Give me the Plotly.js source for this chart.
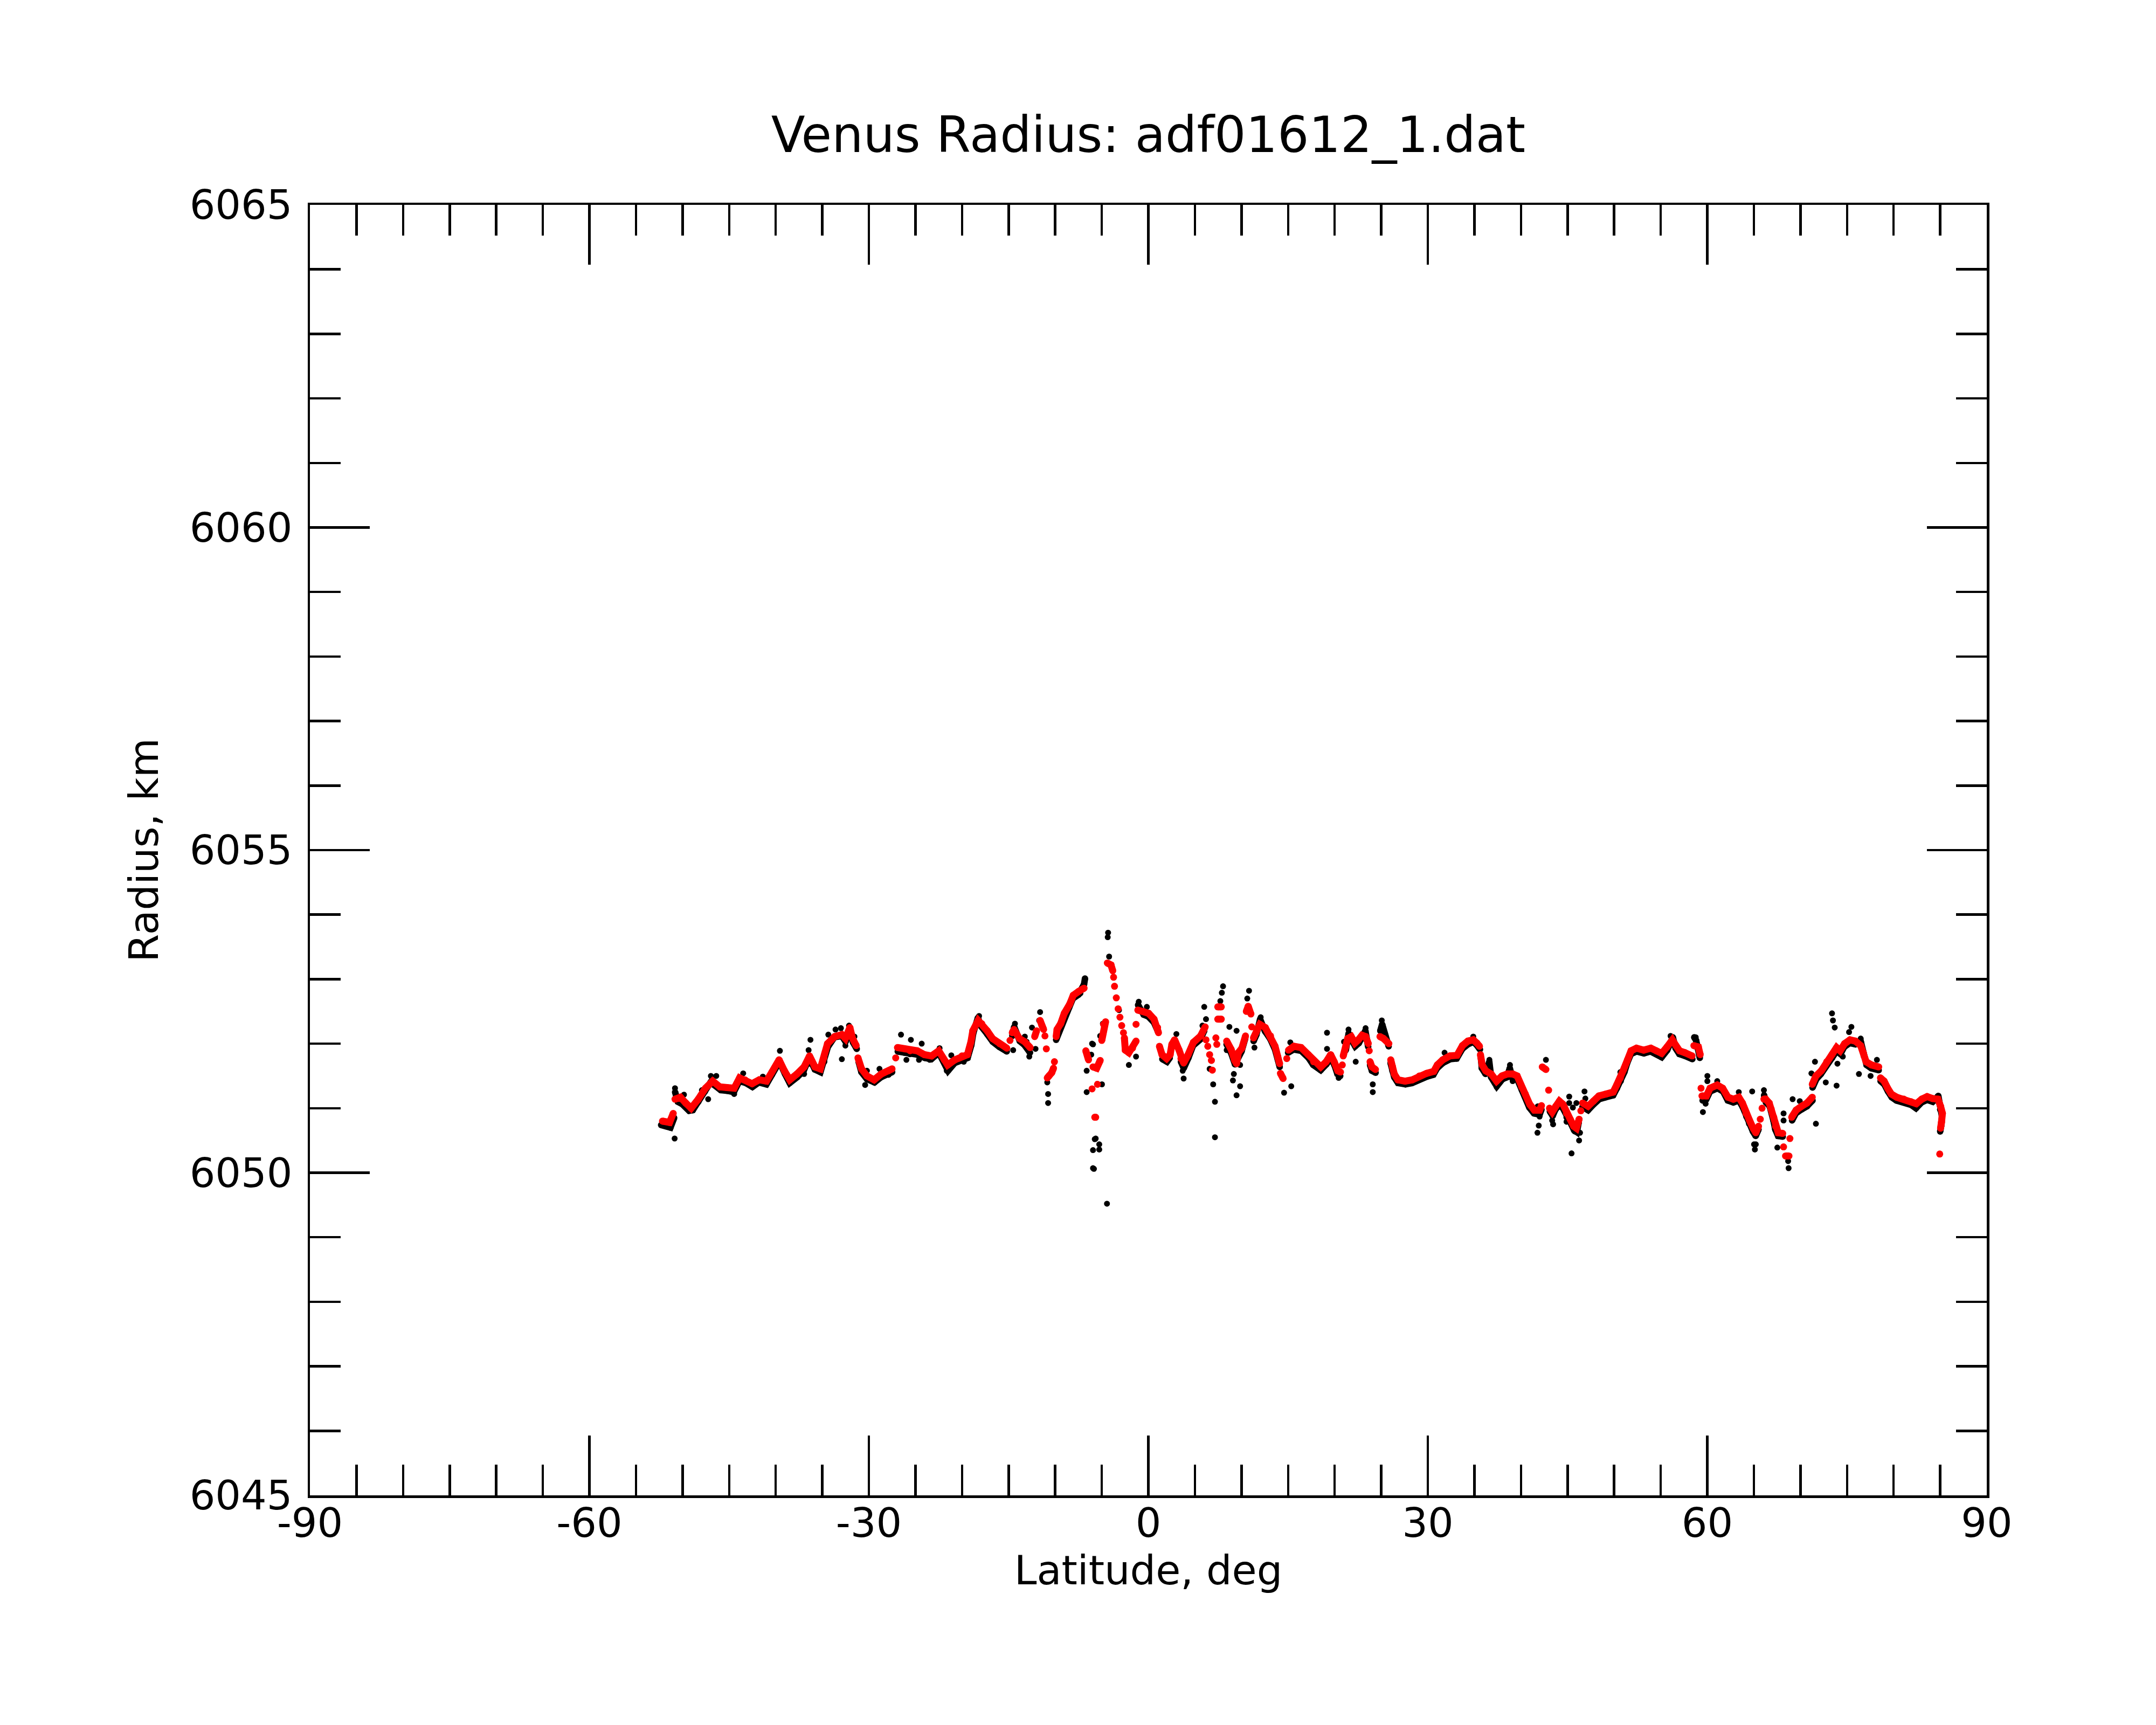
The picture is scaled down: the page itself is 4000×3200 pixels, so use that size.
<!DOCTYPE html>
<html>
<head>
<meta charset="utf-8">
<script src="https://cdn.plot.ly/plotly-3.0.1.min.js"></script>
<style>
html, body { margin: 0; padding: 0; background: #ffffff; }
#plot { width: 4000px; height: 3200px; }
</style>
</head>
<body>
<div id="plot"></div>
<script>
// axis ticks
var latTicks = [-90, -60, -30, 0, 30, 60, 90];
var latTickText = ['-90', '-60', '-30', '0', '30', '60', '90'];
var radTicks = [6045, 6050, 6055, 6060, 6065];
var radTickText = ['6045', '6050', '6055', '6060', '6065'];

// smoothed radius (red), [latitude, radius]; null = break in the track
var redPoints = [
	[-52.16,6050.80],[-51.39,6050.78],[-51.00,6050.92], null,
	[-50.81,6051.14],[-50.23,6051.17],[-49.66,6051.08],[-49.08,6051.00],[-48.31,6051.14],[-47.54,6051.31],[-46.77,6051.42],[-46.00,6051.33],[-45.23,6051.32],[-44.46,6051.31],[-43.88,6051.47],[-43.30,6051.44],[-42.53,6051.38],[-41.76,6051.44],[-40.99,6051.42],[-40.41,6051.56],[-39.64,6051.75],[-39.07,6051.58],[-38.49,6051.44],[-37.72,6051.53],[-36.95,6051.64],[-36.37,6051.81],[-35.79,6051.64],[-35.21,6051.61],[-34.83,6051.78],[-34.44,6052.00],[-33.67,6052.11],[-32.90,6052.14],[-32.52,6052.08],[-32.04,6052.25],[-31.75,6052.08],[-31.36,6051.97], null,
	[-31.17,6051.78],[-30.79,6051.61],[-30.21,6051.50],[-29.44,6051.44],[-28.67,6051.53],[-27.90,6051.58],[-27.51,6051.61], null,
	[-27.12,6051.78], null,
	[-26.93,6051.94],[-26.16,6051.92],[-25.58,6051.89],[-24.81,6051.89],[-24.04,6051.83],[-23.27,6051.81],[-22.50,6051.89],[-21.92,6051.75],[-21.54,6051.67],[-20.77,6051.75],[-20.00,6051.81],[-19.42,6051.83],[-19.04,6052.03],[-18.84,6052.20],[-18.27,6052.36],[-17.88,6052.31],[-17.30,6052.20],[-16.73,6052.08],[-15.96,6052.00],[-15.19,6051.93], null,
	[-14.85,6052.05], null,
	[-14.61,6052.17],[-14.42,6052.22],[-13.84,6052.08],[-13.27,6052.03],[-12.69,6051.94], null,
	[-12.20,6052.11],[-12.00,6052.20], null,
	[-11.62,6052.36],[-11.43,6052.28],[-11.24,6052.22], null,
	[-11.10,6052.12], null, [-10.95,6051.92], null,
	[-10.85,6051.47],[-10.66,6051.50],[-10.37,6051.55],[-10.18,6051.62], null,
	[-10.08,6051.72], null,
	[-9.89,6052.11],[-9.80,6052.22],[-9.41,6052.31],[-9.02,6052.47],[-8.45,6052.61],[-8.06,6052.75],[-7.48,6052.81],[-6.90,6052.86], null,
	[-6.71,6051.89],[-6.42,6051.75], null,
	[-6.04,6051.30], null, [-5.46,6051.37], null,
	[-5.94,6051.64],[-5.55,6051.62],[-5.17,6051.74], null,
	[-5.75,6050.86],[-5.65,6050.86], null,
	[-5.00,6052.05],[-4.80,6052.30],[-4.59,6052.34], null,
	[-4.40,6053.25],[-4.01,6053.22],[-3.82,6053.13], null,
	[-3.73,6053.03], null, [-3.63,6052.89], null, [-3.44,6052.71], null, [-3.24,6052.54], null, [-3.05,6052.41], null, [-2.86,6052.28], null, [-2.67,6052.17], null,
	[-2.57,6052.09],[-2.47,6051.90],[-2.09,6051.86],[-1.70,6051.93],[-1.32,6052.04], null,
	[-1.32,6052.30], null,
	[-1.13,6052.52],[-0.55,6052.50],[0.03,6052.47],[0.61,6052.38],[0.99,6052.25],[1.09,6052.17], null,
	[1.19,6051.96],[1.47,6051.83],[1.96,6051.77],[2.34,6051.83],[2.53,6051.99],[2.82,6052.06],[3.30,6051.90],[3.50,6051.77],[3.79,6051.70],[4.27,6051.83],[4.84,6052.02],[5.61,6052.12],[6.10,6052.26], null,
	[6.19,6052.06], null, [6.38,6051.96], null, [6.58,6051.83], null, [6.77,6051.74], null, [6.87,6051.59], null,
	[7.25,6052.09], null, [7.35,6051.99], null,
	[7.45,6052.38],[7.83,6052.38], null,
	[7.45,6052.57],[7.83,6052.57], null,
	[8.41,6052.04],[8.89,6051.91],[9.27,6051.74],[9.47,6051.69],[9.66,6051.86],[10.04,6051.93],[10.43,6052.12], null,
	[10.52,6052.50],[10.72,6052.58],[11.01,6052.46], null,
	[11.10,6052.26], null,
	[11.29,6052.09],[11.58,6052.18],[11.97,6052.30],[12.55,6052.25],[13.12,6052.12],[13.60,6051.96],[13.89,6051.80],[14.09,6051.69], null,
	[14.18,6051.54],[14.47,6051.46], null,
	[14.86,6051.77], null,
	[15.05,6051.90],[15.63,6051.96],[16.40,6051.94],[17.17,6051.83],[17.74,6051.72],[18.51,6051.64],[19.09,6051.72],[19.57,6051.83],[19.95,6051.72],[20.34,6051.58],[20.63,6051.56], null,
	[20.82,6051.67], null,
	[20.92,6051.81],[21.20,6051.95],[21.40,6052.08],[21.78,6052.11],[22.17,6052.01],[22.55,6052.06],[22.94,6052.13],[23.32,6052.11],[23.61,6052.00], null,
	[23.71,6051.89], null,
	[23.80,6051.72],[24.00,6051.64],[24.38,6051.60], null,
	[24.86,6052.11],[25.25,6052.08],[25.82,6052.00], null,
	[26.02,6051.75],[26.21,6051.64],[26.40,6051.53],[26.79,6051.44],[27.56,6051.42],[28.33,6051.44],[29.10,6051.50],[29.87,6051.54],[30.64,6051.57],[31.02,6051.67],[31.60,6051.75],[32.37,6051.81],[33.14,6051.82],[33.72,6051.97],[34.30,6052.04],[34.88,6052.06],[35.26,6052.01],[35.55,6051.96], null,
	[35.65,6051.83],[35.84,6051.67],[36.22,6051.58],[36.80,6051.53],[37.38,6051.42],[37.96,6051.50],[38.53,6051.53],[39.11,6051.53],[39.59,6051.50],[40.07,6051.33],[40.46,6051.22],[40.94,6051.06],[41.43,6050.97],[42.00,6050.97],[42.20,6051.04], null,
	[42.29,6051.64],[42.68,6051.60], null,
	[42.97,6051.28], null,
	[43.06,6051.00],[43.35,6050.94],[43.74,6051.03],[44.12,6051.11],[44.51,6051.06],[44.89,6050.92],[45.28,6050.83],[45.66,6050.72],[45.95,6050.69],[46.24,6050.83], null,
	[46.43,6050.96], null,
	[46.62,6051.08],[47.20,6051.03],[47.78,6051.11],[48.36,6051.19],[49.13,6051.22],[49.90,6051.25],[50.28,6051.36],[50.67,6051.47],[51.05,6051.61],[51.44,6051.75],[51.82,6051.89],[52.40,6051.93],[53.17,6051.90],[53.94,6051.93],[54.52,6051.89],[55.10,6051.85],[55.68,6051.95],[56.25,6052.06],[56.64,6051.97],[57.02,6051.89],[57.60,6051.86],[58.37,6051.81], null,
	[58.56,6051.97],[59.04,6051.95],[59.24,6051.83], null,
	[59.33,6051.31], null,
	[59.43,6051.19],[59.91,6051.19],[60.30,6051.31],[61.07,6051.36],[61.65,6051.31],[62.22,6051.17],[62.80,6051.14],[63.38,6051.17],[63.77,6051.08],[64.15,6050.92],[64.54,6050.81],[64.92,6050.69],[65.21,6050.62],[65.50,6050.72], null,
	[65.69,6050.83], null, [65.88,6051.00], null,
	[66.08,6051.14],[66.27,6051.14],[66.65,6051.08],[66.85,6050.99],[67.14,6050.86],[67.33,6050.72],[67.62,6050.62],[68.10,6050.61], null,
	[68.19,6050.40], null,
	[68.40,6050.26],[68.77,6050.26], null,
	[68.87,6050.53], null,
	[69.06,6050.86],[69.54,6050.97],[70.12,6051.03],[70.70,6051.08],[71.27,6051.17], null,
	[71.27,6051.37],[71.66,6051.50],[72.24,6051.58],[72.82,6051.72],[73.39,6051.83],[73.88,6051.94],[74.26,6051.89],[74.74,6052.00],[75.32,6052.06],[75.90,6052.04],[76.47,6051.97],[76.76,6051.86],[77.05,6051.72],[77.63,6051.67],[78.40,6051.64], null,
	[78.59,6051.47],[78.98,6051.42],[79.36,6051.31],[79.75,6051.22],[80.33,6051.17],[81.10,6051.14],[81.87,6051.10],[82.44,6051.07],[83.02,6051.14],[83.60,6051.18],[84.18,6051.15],[84.76,6051.14],[85.04,6051.03],[85.24,6050.92],[85.14,6050.78],[85.04,6050.69], null,
	[84.95,6050.29]
];

// raw radius (black) along the track
var blackTrack = [
	[-52.30,6050.74],[-51.80,6050.72],[-51.30,6050.70],[-50.90,6050.85], null,
	[-50.80,6051.25],[-50.50,6051.10],[-50.00,6051.06],[-49.30,6050.96],[-48.90,6050.97],[-48.30,6051.10],[-47.60,6051.26],[-47.00,6051.40],[-46.60,6051.36],[-45.90,6051.28],[-45.20,6051.27],[-44.50,6051.25],[-43.90,6051.42],[-43.20,6051.39],[-42.50,6051.33],[-41.80,6051.40],[-41.00,6051.37],[-40.40,6051.52],[-39.60,6051.72],[-39.00,6051.53],[-38.50,6051.39],[-37.70,6051.48],[-37.00,6051.58],[-36.40,6051.78],[-35.80,6051.60],[-35.20,6051.56],[-34.80,6051.72],[-34.40,6051.95],[-33.70,6052.10],[-32.90,6052.12],[-32.50,6052.03],[-32.00,6052.20],[-31.70,6052.02],[-31.30,6051.92], null,
	[-31.10,6051.72],[-30.80,6051.56],[-30.20,6051.45],[-29.40,6051.40],[-28.70,6051.48],[-27.90,6051.52],[-27.50,6051.56], null,
	[-26.90,6051.88],[-26.20,6051.86],[-25.60,6051.84],[-24.80,6051.83],[-24.00,6051.78],[-23.30,6051.76],[-22.50,6051.86],[-21.90,6051.70],[-21.50,6051.58],[-20.80,6051.70],[-20.00,6051.76],[-19.40,6051.78],[-19.00,6051.98],[-18.80,6052.16],[-18.30,6052.40],[-17.90,6052.26],[-17.30,6052.15],[-16.70,6052.03],[-16.00,6051.95],[-15.20,6051.88], null,
	[-14.60,6052.12],[-14.40,6052.26],[-13.80,6052.04],[-13.30,6051.98],[-12.70,6051.86], null,
	[-9.90,6052.06],[-9.40,6052.26],[-9.00,6052.42],[-8.50,6052.56],[-8.10,6052.70],[-7.50,6052.76],[-6.90,6052.92],[-6.80,6053.01], null,
	[-1.10,6052.60],[-0.50,6052.45],[0.00,6052.42],[0.60,6052.33],[1.00,6052.20], null,
	[1.50,6051.76],[2.00,6051.72],[2.30,6051.78], null,
	[3.50,6051.72],[3.80,6051.62],[4.30,6051.78],[4.80,6051.97],[5.60,6052.07],[6.00,6052.20], null,
	[8.40,6051.99],[8.90,6051.85],[9.30,6051.68],[9.70,6051.80],[10.00,6051.88],[10.40,6052.08], null,
	[11.30,6052.04],[11.60,6052.14],[12.00,6052.38],[12.50,6052.20],[13.10,6052.07],[13.60,6051.91],[13.90,6051.75],[14.10,6051.64], null,
	[15.00,6051.86],[15.60,6051.91],[16.40,6051.89],[17.20,6051.78],[17.70,6051.67],[18.50,6051.59],[19.10,6051.68],[19.60,6051.78],[20.00,6051.66],[20.30,6051.53],[20.60,6051.50], null,
	[21.20,6051.90],[21.50,6052.16],[21.80,6052.06],[22.20,6051.96],[22.60,6052.01],[22.90,6052.08],[23.30,6052.20],[23.60,6051.95], null,
	[23.80,6051.67],[24.00,6051.58],[24.40,6051.55], null,
	[24.90,6052.20],[25.10,6052.30],[25.80,6051.96], null,
	[26.00,6051.70],[26.20,6051.58],[26.40,6051.48],[26.80,6051.39],[27.60,6051.37],[28.30,6051.39],[29.10,6051.45],[29.90,6051.49],[30.60,6051.52],[31.00,6051.62],[31.60,6051.70],[32.40,6051.76],[33.10,6051.77],[33.70,6051.92],[34.30,6051.99],[34.90,6052.03],[35.30,6051.97],[35.60,6051.91], null,
	[35.70,6051.78],[35.80,6051.62],[36.20,6051.53],[36.60,6051.72],[36.80,6051.48],[37.40,6051.34],[38.00,6051.45],[38.50,6051.48],[38.80,6051.62],[39.10,6051.46],[39.60,6051.45],[40.10,6051.28],[40.50,6051.17],[40.90,6051.01],[41.40,6050.92],[42.00,6050.90],[42.20,6050.98], null,
	[43.10,6050.95],[43.40,6050.88],[43.70,6050.98],[44.10,6051.05],[44.50,6051.00],[44.90,6050.86],[45.30,6050.78],[45.70,6050.66],[46.00,6050.63],[46.20,6050.78], null,
	[46.60,6051.02],[47.20,6050.97],[47.80,6051.06],[48.40,6051.14],[49.10,6051.17],[49.90,6051.20],[50.30,6051.31],[50.70,6051.42],[51.10,6051.56],[51.40,6051.70],[51.80,6051.84],[52.40,6051.88],[53.20,6051.85],[53.90,6051.88],[54.50,6051.84],[55.10,6051.79],[55.70,6051.90],[56.30,6052.10],[56.60,6051.93],[57.00,6051.84],[57.60,6051.81],[58.40,6051.76], null,
	[58.60,6052.10],[58.80,6052.05],[59.00,6051.92],[59.20,6051.78], null,
	[59.50,6051.12],[59.90,6051.14],[60.30,6051.26],[61.10,6051.31],[61.70,6051.26],[62.20,6051.12],[62.80,6051.09],[63.40,6051.12],[63.80,6051.02],[64.20,6050.87],[64.50,6050.76],[64.90,6050.64],[65.20,6050.57],[65.50,6050.67], null,
	[66.10,6051.20],[66.30,6051.09],[66.70,6051.03],[66.90,6050.94],[67.10,6050.81],[67.30,6050.67],[67.60,6050.57],[68.10,6050.56], null,
	[69.10,6050.81],[69.50,6050.92],[70.10,6050.98],[70.70,6051.03],[71.30,6051.12], null,
	[71.30,6051.32],[71.70,6051.45],[72.20,6051.53],[72.80,6051.67],[73.40,6051.78],[73.90,6051.89],[74.30,6051.84],[74.70,6051.95],[75.30,6052.01],[75.90,6051.99],[76.50,6052.02],[76.80,6051.81],[77.10,6051.67],[77.60,6051.62],[78.40,6051.59], null,
	[78.60,6051.42],[79.00,6051.37],[79.40,6051.26],[79.80,6051.17],[80.30,6051.12],[81.10,6051.09],[81.90,6051.05],[82.40,6051.00],[83.00,6051.09],[83.60,6051.13],[84.20,6051.10],[84.80,6051.19],[85.00,6050.98],[85.20,6050.87],[85.10,6050.72],[85.00,6050.64]
];

// raw radius (black) scattered away from the track
var blackScatter = [
	[-50.85,6050.53],[-50.81,6051.31],[-49.85,6051.21],[-47.92,6051.28],[-47.25,6051.14],[-46.96,6051.50],[-46.38,6051.50],[-44.46,6051.22],[-43.49,6051.54],[-41.38,6051.49],
	[-39.55,6051.89],[-38.39,6051.43],[-36.95,6051.53],[-36.27,6052.06],[-36.47,6051.90],[-36.37,6051.69],[-34.35,6052.14],[-33.58,6052.22],[-33.00,6052.24],[-32.13,6052.28],
	[-31.55,6052.11],[-32.90,6051.76],[-32.52,6051.97],[-30.40,6051.36],[-30.21,6051.58],[-29.25,6051.44],[-28.86,6051.61],
	[-26.55,6052.14],[-25.49,6052.06],[-25.97,6051.75],[-24.33,6052.00],[-24.62,6051.75],[-23.47,6051.75],[-22.41,6051.93],[-21.64,6051.58],[-21.15,6051.82],[-19.81,6051.72],[-18.17,6052.43],
	[-15.28,6051.89],[-14.51,6051.90],[-14.32,6052.31],[-13.26,6052.11],[-13.07,6052.03],[-12.78,6051.80],[-12.49,6052.25],[-11.62,6052.49],[-11.72,6052.36],[-12.11,6051.92],
	[-10.85,6051.40],[-10.76,6051.22],[-10.76,6051.08],[-7.29,6052.78],[-6.81,6053.01],[-6.04,6052.00],[-6.13,6051.83],[-6.62,6051.58],[-6.62,6051.25],
	[-5.65,6050.53],[-5.27,6050.44],[-5.94,6050.35],[-5.27,6050.36],[-5.94,6050.07],[-4.98,6051.37],[-5.75,6050.52],[-5.84,6050.06],[-5.94,6051.99],[-5.17,6052.12],[-4.88,6052.31],
	[-4.44,6049.52],[-4.36,6053.65],[-4.32,6053.72],[-4.21,6053.35],[-3.15,6052.52],[-2.09,6051.67],[-1.32,6051.80],[-1.03,6052.65],[-0.16,6052.57],[0.41,6052.38],
	[1.96,6051.74],[3.01,6052.15],[3.79,6051.46],[3.69,6051.58],[6.00,6052.57],[6.19,6052.38],[5.81,6052.28],[6.38,6051.96],[6.58,6051.61],[6.96,6051.37],[7.15,6051.10],[7.15,6050.55],
	[8.02,6052.89],[7.89,6052.79],[7.73,6052.66],[8.70,6052.26],[9.47,6052.20],[8.41,6051.90],[9.18,6051.53],[9.08,6051.43],[9.85,6051.34],[9.47,6051.20],[9.85,6051.67],
	[10.81,6052.82],[10.62,6052.70],[12.06,6052.41],[11.39,6051.94],[12.55,6052.18],[13.12,6052.09],[14.57,6051.24],[15.34,6051.34],[15.24,6052.02],
	[19.18,6052.17],[19.18,6051.92],[21.49,6052.22],[22.26,6051.72],[23.32,6052.24],[25.06,6052.36],[25.06,6052.25],[24.09,6051.37],[24.09,6051.25],[20.43,6051.47],[21.01,6052.03],
	[31.80,6051.86],[34.88,6052.11],[36.61,6051.75],[38.82,6051.67],[39.11,6051.42],[37.38,6051.33],
	[42.68,6051.75],[41.81,6051.03],[42.00,6050.87],[41.91,6050.73],[41.77,6050.62],[43.35,6050.81],[43.45,6050.75],[45.18,6051.18],[45.18,6051.08],[45.57,6051.01],[45.95,6051.08],
	[44.89,6050.79],[45.76,6050.64],[46.34,6050.62],[46.24,6050.50],[45.43,6050.30],[46.82,6051.26],[46.91,6051.15],[50.67,6051.56],[56.06,6052.12],[58.76,6052.10],
	[60.01,6051.50],[60.01,6051.42],[59.82,6051.07],[59.53,6050.94],[61.07,6051.42],[63.38,6051.25],
	[64.82,6051.26],[65.02,6050.44],[65.11,6050.36],[65.21,6050.44],[66.08,6051.28],[67.52,6050.39],[68.19,6050.92],[68.19,6050.81],[68.68,6050.18],[68.73,6050.07],
	[69.16,6051.14],[69.73,6050.94],[69.93,6051.11],[71.18,6051.54],[71.56,6051.72],[71.66,6050.76],[72.72,6051.40],[73.88,6051.35],[73.97,6051.69],[74.55,6051.80],
	[73.39,6052.47],[73.49,6052.36],[73.68,6052.25],[75.22,6052.18],[75.47,6052.26],[76.47,6052.08],[76.28,6051.53],[77.53,6051.50],[78.21,6051.75],[82.44,6051.00],[84.76,6051.19]
];

function toXY(points){
	var x = [];
	var y = [];
	for (var i = 0; i < points.length; i++) {
		if (points[i] === null) {
			x.push(null);
			y.push(null);
		} else {
			x.push(points[i][0]);
			y.push(points[i][1]);
		}
	}
	return [x, y];
}

var red = toXY(redPoints);
var blk = toXY(blackTrack);
var sct = toXY(blackScatter);

var data = [
	{
		name: 'raw track',
		mode: 'lines+markers',
		x: blk[0],
		y: blk[1],
		connectgaps: false,
		line: { color: '#000000', width: 12 },
		marker: { color: '#000000', size: 12 },
		hoverinfo: 'skip'
	},
	{
		name: 'raw',
		mode: 'markers',
		x: sct[0],
		y: sct[1],
		marker: { color: '#000000', size: 11 },
		hoverinfo: 'skip'
	},
	{
		name: 'smoothed',
		mode: 'lines+markers',
		x: red[0],
		y: red[1],
		connectgaps: false,
		line: { color: '#ff0000', width: 13 },
		marker: { color: '#ff0000', size: 13 },
		hoverinfo: 'skip'
	}
];

var axisCommon = {
	ticks: 'inside',
	ticklen: 111,
	tickwidth: 4.5,
	tickcolor: '#000000',
	showline: true,
	linewidth: 4.5,
	linecolor: '#000000',
	mirror: 'ticks',
	showgrid: false,
	zeroline: false,
	tickfont: { size: 75, color: '#000000' }
};

var layout = {
	width: 4000,
	height: 3200,
	margin: { l: 575, r: 314, t: 380, b: 426, pad: 0 },
	paper_bgcolor: '#ffffff',
	plot_bgcolor: '#ffffff',
	showlegend: false,
	font: { family: 'DejaVu Sans', size: 75, color: '#000000' },
	title: {
		text: 'Venus Radius: adf01612_1.dat',
		font: { size: 92 },
		x: 0.5, xref: 'paper', xanchor: 'center',
		y: 1 - 250 / 3200, yref: 'container', yanchor: 'middle'
	},
	xaxis: Object.assign({}, axisCommon, {
		range: [-90, 90],
		tickmode: 'array',
		tickvals: latTicks,
		ticktext: latTickText,
		ticklabelstandoff: -18,
		minor: { tickmode: 'linear', tick0: -90, dtick: 5, ticks: 'inside', ticklen: 57, tickwidth: 4.5, tickcolor: '#000000', showgrid: false },
		title: { text: 'Latitude, deg', font: { size: 75 }, standoff: 4 }
	}),
	yaxis: Object.assign({}, axisCommon, {
		range: [6045, 6065],
		tickmode: 'array',
		tickvals: radTicks,
		ticktext: radTickText,
		ticklabelstandoff: 13,
		minor: { tickmode: 'linear', tick0: 6045, dtick: 1, ticks: 'inside', ticklen: 57, tickwidth: 4.5, tickcolor: '#000000', showgrid: false },
		title: { text: 'Radius, km', font: { size: 75 }, standoff: 35 }
	})
};

Plotly.newPlot('plot', data, layout, { staticPlot: true, displayModeBar: false });
</script>
</body>
</html>
